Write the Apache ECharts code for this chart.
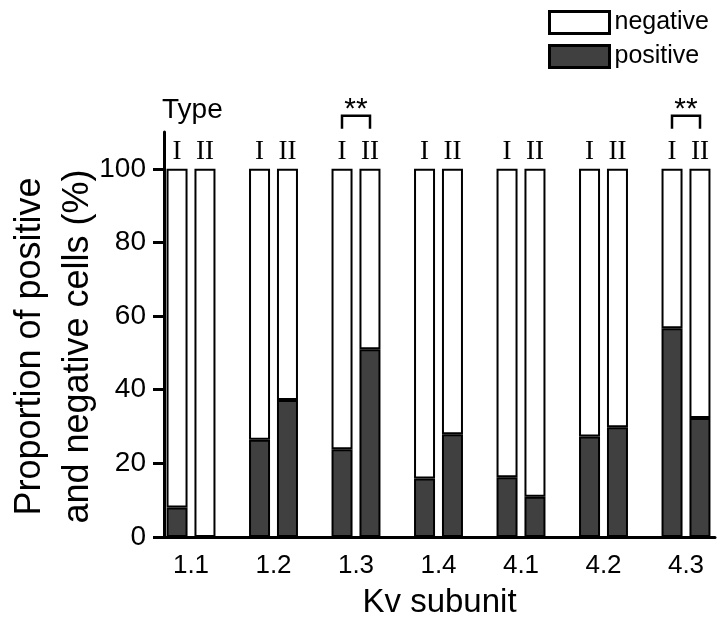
<!DOCTYPE html>
<html>
<head>
<meta charset="utf-8">
<script src="https://cdn.jsdelivr.net/npm/echarts@6/dist/echarts.min.js"></script>
<style>html,body{margin:0;padding:0;background:#fff;}#c{width:723px;height:621px;}</style>
</head>
<body>
<div id="c"></div>
<script>
var categories = ['1.1', '1.2', '1.3', '1.4', '4.1', '4.2', '4.3'];
var positiveI  = [8.0, 26.4, 23.8, 15.9, 16.2, 27.3, 56.7];
var negativeI  = [92.0, 73.6, 76.2, 84.1, 83.8, 72.7, 43.3];
var positiveII = [0, 37.2, 51.0, 27.9, 10.9, 29.8, 32.3];
var negativeII = [100, 62.8, 49.0, 72.1, 89.1, 70.2, 67.7];
var typeLabels = ['I', 'II'];
var yTicks = [0, 20, 40, 60, 80, 100];
var sigCategories = ['1.3', '4.3'];
var sigTexts = ['**', '**'];

var SANS = 'Liberation Sans, Arial, Helvetica, sans-serif';
var SERIF = 'Liberation Serif, Times New Roman, serif';
var DARK = '#404040';

var chart = echarts.init(document.getElementById('c'));

var barCommon = {
  type: 'bar', xAxisIndex: 0, yAxisIndex: 0,
  barWidth: 21, barGap: '33%'
};

function typeLabel(txt) {
  return {
    show: true, position: 'top', distance: 3,
    formatter: txt, color: '#000',
    fontFamily: SERIF, fontSize: 27
  };
}

var sigData = sigCategories.map(function (c, i) {
  return [categories.indexOf(c), 100, sigTexts[i]];
});

var option = {
  animation: false,
  backgroundColor: '#fff',
  title: {
    text: 'Type', left: 157, top: 91,
    textStyle: { fontFamily: SANS, fontSize: 28, fontWeight: 'normal', color: '#000' }
  },
  legend: {
    data: ['negative', 'positive'],
    orient: 'vertical', left: 543, top: 5,
    icon: 'rect', itemWidth: 60, itemHeight: 22, itemGap: 9,
    itemStyle: { borderColor: '#000', borderWidth: 3 },
    textStyle: { fontFamily: SANS, fontSize: 25, color: '#000' }
  },
  grid: [
    { left: 149.75, width: 577.5, top: 132, bottom: 84, containLabel: false, outerBoundsMode: 'none' },
    { left: 164, right: 8, top: 132, bottom: 84, containLabel: false, outerBoundsMode: 'none' }
  ],
  xAxis: [
    {
      gridIndex: 0, type: 'category', data: categories,
      axisLine: { show: false }, axisTick: { show: false },
      axisLabel: { fontFamily: SANS, fontSize: 26, color: '#000', margin: 16 },
      splitLine: { show: false }
    },
    {
      gridIndex: 1, type: 'value', min: 0, max: 1,
      axisLine: { show: true, onZero: false, lineStyle: { color: '#000', width: 3 } },
      axisTick: { show: false }, axisLabel: { show: false }, splitLine: { show: false },
      name: 'Kv subunit', nameLocation: 'middle', nameGap: 49, nameMoveOverlap: false,
      nameTextStyle: { fontFamily: SANS, fontSize: 33, color: '#000' }
    }
  ],
  yAxis: [
    { gridIndex: 0, type: 'value', min: 0, max: 110, show: false, splitLine: { show: false } },
    {
      gridIndex: 1, type: 'value', min: 0, max: 110, interval: 20,
      axisLine: { show: true, lineStyle: { color: '#000', width: 3 } },
      axisTick: { show: true, length: 11, customValues: yTicks, lineStyle: { color: '#000', width: 3 } },
      axisLabel: { customValues: yTicks, fontFamily: SANS, fontSize: 28, color: '#000', margin: 18 },
      splitLine: { show: false },
      name: 'Proportion of positive\nand negative cells (%)',
      nameLocation: 'middle', nameGap: 62, nameMoveOverlap: false,
      nameTextStyle: { fontFamily: SANS, fontSize: 36, color: '#000', lineHeight: 48, padding: [0, 24, 0, 0] }
    }
  ],
  series: [
    Object.assign({}, barCommon, {
      name: 'positive', stack: 'I', data: positiveI,
      itemStyle: { color: DARK, borderColor: '#000', borderWidth: 2 }
    }),
    Object.assign({}, barCommon, {
      name: 'negative', stack: 'I', data: negativeI,
      itemStyle: { color: '#fff', borderColor: '#000', borderWidth: 2 },
      label: typeLabel(typeLabels[0])
    }),
    Object.assign({}, barCommon, {
      name: 'positive', stack: 'II', data: positiveII,
      itemStyle: { color: DARK, borderColor: '#000', borderWidth: 2 }
    }),
    Object.assign({}, barCommon, {
      name: 'negative', stack: 'II', data: negativeII,
      itemStyle: { color: '#fff', borderColor: '#000', borderWidth: 2 },
      label: typeLabel(typeLabels[1])
    }),
    {
      type: 'custom', xAxisIndex: 0, yAxisIndex: 0, clip: false,
      data: sigData,
      renderItem: function (params, api) {
        var p = api.coord([api.value(0), api.value(1)]);
        var half = 14;
        var topY = p[1] - 53;
        var legY = p[1] - 40;
        return {
          type: 'group',
          children: [
            {
              type: 'polyline',
              shape: { points: [[p[0] - half, legY], [p[0] - half, topY], [p[0] + half, topY], [p[0] + half, legY]] },
              style: { stroke: '#000', lineWidth: 2.5, fill: null }
            },
            {
              type: 'text',
              style: {
                text: sigData[params.dataIndex][2], x: p[0], y: topY + 9,
                align: 'center', verticalAlign: 'bottom',
                fontFamily: SANS, fontSize: 30, fill: '#000'
              }
            }
          ]
        };
      }
    }
  ]
};
chart.setOption(option);
</script>
</body>
</html>
